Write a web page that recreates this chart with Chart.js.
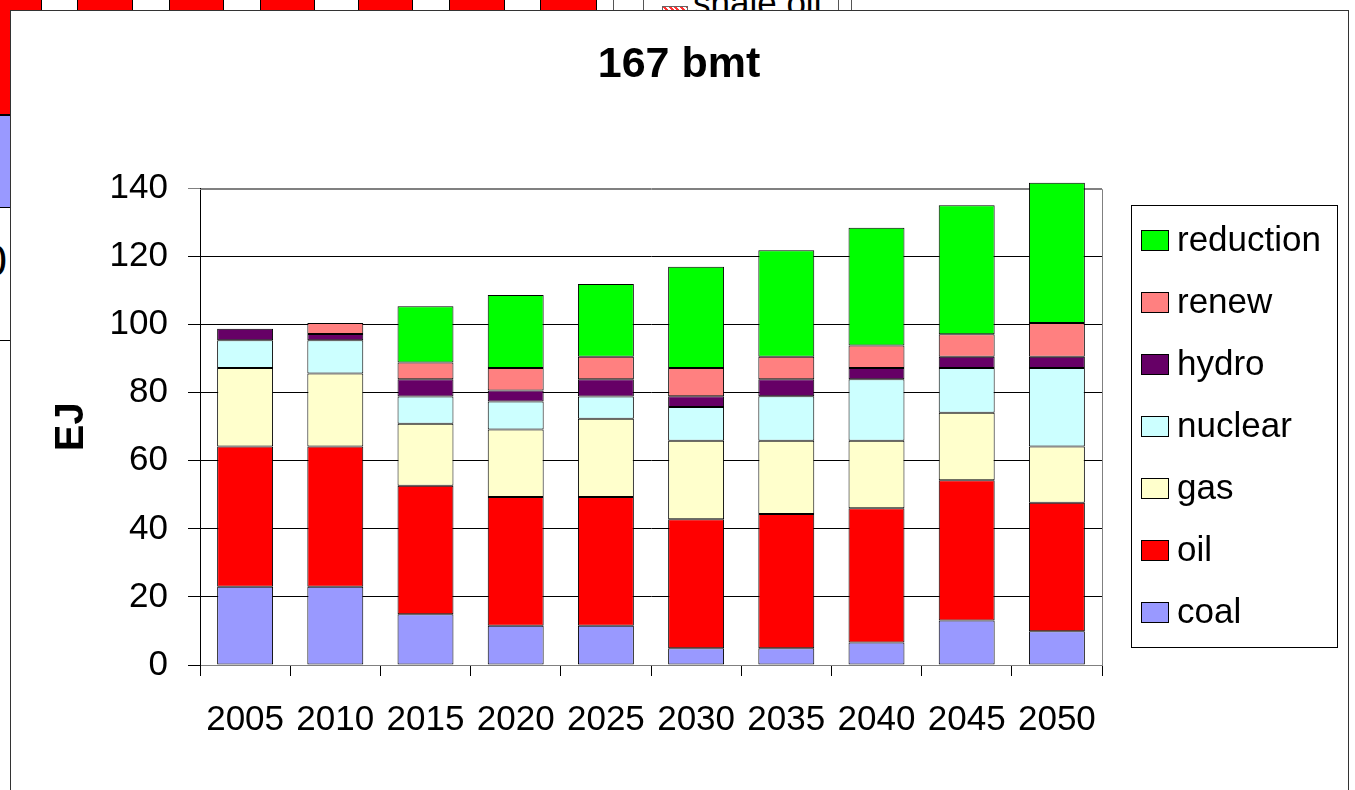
<!DOCTYPE html>
<html>
<head>
<meta charset="utf-8">
<title>167 bmt</title>
<script src="https://cdn.jsdelivr.net/npm/chart.js@4/dist/chart.umd.min.js"></script>
<style>
  html, body { margin: 0; padding: 0; background: #fff; }
  body { width: 1355px; height: 790px; position: relative; overflow: hidden; font-family: "Liberation Sans", Arial, sans-serif; }
  /* edge of the window sitting behind the chart */
  .back { position: absolute; left: 0; top: 0; width: 1355px; height: 790px; }
  .back div { position: absolute; box-sizing: border-box; }
  .red { background: #ff0000; border-left: 1px solid #000; border-right: 1px solid #000; top: -2px; height: 14px; }
  .vline { width: 1px; top: 0; height: 12px; background: #555; }
  .shale { left: 693px; top: -22px; font-size: 35px; line-height: 50px; color: #000; white-space: nowrap; }
  .patch { left: 662px; top: 6px; width: 26px; height: 8px; border: 1px solid #666;
    background: repeating-linear-gradient(45deg, #f33 0 2px, #fff 2px 4px); }
  .frame { position: absolute; left: 10px; top: 10px; width: 1339px; height: 900px; box-sizing: border-box;
    border: 1px solid #333; background: #fff; }
  #chart { position: absolute; left: 0; top: 0; }
</style>
</head>
<body>
<div class="back">
  <div style="left:-20px; top:-2px; width:62px; height:117px; background:#ff0000; border:1px solid #000;"></div>
  <div style="left:-20px; top:115px; width:62px; height:93px; background:#9999ff; border:1px solid #000;"></div>
  <div style="left:-20px; top:207px; width:40px; height:134px; border:1px solid #000;"></div>
  <div style="left:-18px; top:238px; font-size:45px; line-height:45px;">0</div>
  <div class="red" style="left:77px; width:56px;"></div>
  <div class="red" style="left:169px; width:55px;"></div>
  <div class="red" style="left:260px; width:55px;"></div>
  <div class="red" style="left:358px; width:55px;"></div>
  <div class="red" style="left:449px; width:56px;"></div>
  <div class="red" style="left:540px; width:57px;"></div>
  <div class="vline" style="left:613px;"></div>
  <div class="vline" style="left:643px;"></div>
  <div class="patch"></div>
  <div class="shale">shale oil</div>
  <div class="vline" style="left:838px;"></div>
  <div class="vline" style="left:851px;"></div>
</div>
<div class="frame"></div>
<canvas id="chart" width="1355" height="790"></canvas>

<script>
// years on the category axis
const years = ["2005", "2010", "2015", "2020", "2025", "2030", "2035", "2040", "2045", "2050"];

// energy by source, EJ (stacked from the bottom up)
const coal      = [23.0, 23.0, 14.9, 11.5, 11.5,  4.9,  4.9,  6.6, 13.1,  9.9];
const oil       = [41.2, 41.2, 37.8, 37.9, 37.9, 37.9, 39.5, 39.5, 41.2, 37.8];
const gas       = [23.1, 21.5, 18.2, 19.8, 23.0, 23.1, 21.5, 19.8, 19.8, 16.5];
const nuclear   = [ 8.1,  9.7,  8.0,  8.2,  6.5,  9.9, 13.1, 18.1, 13.2, 23.1];
const hydro     = [ 3.4,  1.9,  5.1,  3.3,  5.1,  3.2,  5.0,  3.3,  3.3,  3.3];
const renew     = [ 0.0,  3.2,  4.9,  6.6,  6.6,  8.3,  6.6,  6.6,  6.6,  9.9];
const reduction = [ 0.0,  0.0, 16.5, 21.4, 21.4, 29.7, 31.3, 34.6, 37.9, 41.2];

const seriesNames  = ["coal", "oil", "gas", "nuclear", "hydro", "renew", "reduction"];
const seriesValues = [coal, oil, gas, nuclear, hydro, renew, reduction];
const seriesColors = ["#9999ff", "#ff0000", "#ffffcc", "#ccffff", "#660066", "#ff8080", "#00ff00"];

// y axis ticks
const yMin = 0;
const yMax = 140;
const yStep = 20;

const FONT = "'Liberation Sans', Arial, sans-serif";
Chart.defaults.font.family = FONT;
Chart.defaults.color = "#000";

// gray frame on the top and right of the plot area
const plotFrame = {
    id: "plotFrame",
    beforeDatasetsDraw(chart) {
        const { ctx, chartArea } = chart;
        ctx.save();
        ctx.strokeStyle = "#808080";
        ctx.lineWidth = 1;
        ctx.beginPath();
        ctx.moveTo(chartArea.left, Math.round(chartArea.top) + 0.5);
        ctx.lineTo(Math.round(chartArea.right) + 0.5, Math.round(chartArea.top) + 0.5);
        ctx.lineTo(Math.round(chartArea.right) + 0.5, chartArea.bottom);
        ctx.stroke();
        ctx.restore();
    }
};

// boxed legend in the space kept free by the "legendSpace" axis,
// top entry is the top of the stack
const boxedLegend = {
    id: "boxedLegend",
    afterDraw(chart) {
        const ctx = chart.ctx;
        const box = { left: 1131, top: 205, width: 206, height: 442 };
        ctx.save();
        ctx.strokeStyle = "#000";
        ctx.lineWidth = 1;
        ctx.strokeRect(box.left + 0.5, box.top + 0.5, box.width, box.height);

        const items = chart.data.datasets.slice().reverse();
        ctx.font = "35px " + FONT;
        ctx.textBaseline = "middle";
        ctx.textAlign = "left";
        items.forEach(function (ds, i) {
            const cy = 240 + i * 62;
            ctx.fillStyle = ds.backgroundColor;
            ctx.fillRect(1141, cy - 10, 28, 21);
            ctx.strokeStyle = "#000";
            ctx.strokeRect(1141.5, cy - 9.5, 27, 20);
            ctx.fillStyle = "#000";
            ctx.fillText(ds.label, 1177, cy + 1);
        });
        ctx.restore();
    }
};

const datasets = seriesNames.map(function (name, i) {
    return {
        label: name,
        data: seriesValues[i],
        backgroundColor: seriesColors[i],
        borderColor: "#000",
        borderWidth: 1,
        borderSkipped: false,
        barPercentage: 0.62,
        categoryPercentage: 1.0,
        clip: false
    };
});

new Chart(document.getElementById("chart"), {
    type: "bar",
    data: { labels: years, datasets: datasets },
    options: {
        responsive: false,
        animation: false,
        devicePixelRatio: 1,
        layout: { padding: { left: 10, top: 10, right: 7, bottom: 26 } },
        plugins: {
            legend: { display: false },
            tooltip: { enabled: false },
            title: {
                display: true,
                text: "167 bmt",
                color: "#000",
                font: { size: 43, weight: "bold" },
                padding: { top: 29, bottom: 98 }
            }
        },
        scales: {
            x: {
                stacked: true,
                grid: {
                    display: true,
                    drawOnChartArea: false,
                    drawTicks: true,
                    tickLength: 11,
                    color: "#000",
                    offset: true
                },
                border: { color: "#808080" },
                ticks: {
                    font: { size: 35 },
                    color: "#000",
                    padding: 23,
                    maxRotation: 0,
                    autoSkip: false
                }
            },
            y: {
                stacked: true,
                min: yMin,
                max: yMax,
                ticks: {
                    stepSize: yStep,
                    font: { size: 35 },
                    color: "#000",
                    padding: 20
                },
                grid: {
                    color: function (c) { return c.tick && c.tick.value === yMax ? "#808080" : "#000"; },
                    tickLength: 12
                },
                border: { color: "#000" },
                title: {
                    display: true,
                    text: "EJ",
                    color: "#000",
                    font: { size: 40, weight: "bold" },
                    padding: { top: 38, bottom: 0 }
                },
                afterFit: function (scale) { scale.width = 190; }
            },
            // empty axis on the right that only reserves room for the legend
            legendSpace: {
                type: "linear",
                position: "right",
                grid: { display: false },
                border: { display: false },
                ticks: { display: false },
                afterFit: function (scale) { scale.width = 246; }
            }
        }
    },
    plugins: [plotFrame, boxedLegend]
});
</script>
</body>
</html>
